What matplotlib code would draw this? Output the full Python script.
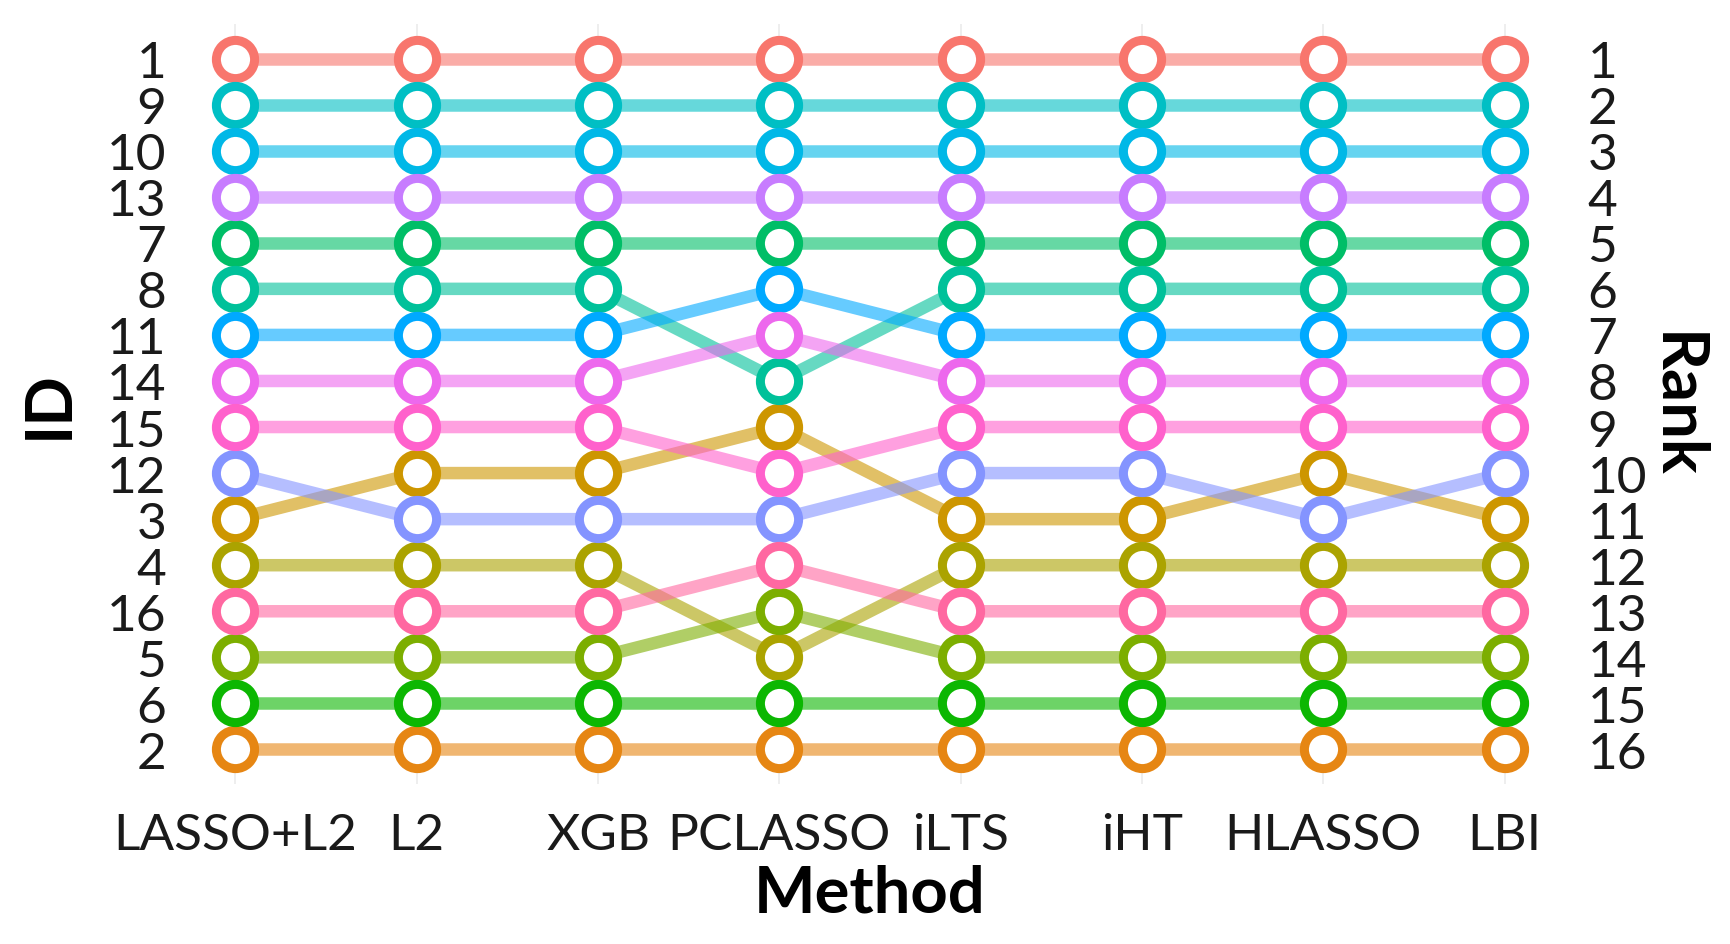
import matplotlib.pyplot as plt
import numpy as np
import matplotlib

matplotlib.rcParams['font.family'] = ['Lato', 'DejaVu Sans']

# data: IDs in rank order (rank 1 first) for each method
methods = ['LASSO+L2', 'L2', 'XGB', 'PCLASSO', 'iLTS', 'iHT', 'HLASSO', 'LBI']
order_lasso_l2 = [1, 9, 10, 13, 7, 8, 11, 14, 15, 12, 3, 4, 16, 5, 6, 2]
order_l2 = [1, 9, 10, 13, 7, 8, 11, 14, 15, 3, 12, 4, 16, 5, 6, 2]
order_xgb = [1, 9, 10, 13, 7, 8, 11, 14, 15, 3, 12, 4, 16, 5, 6, 2]
order_pclasso = [1, 9, 10, 13, 7, 11, 14, 8, 3, 15, 12, 16, 5, 4, 6, 2]
order_ilts = [1, 9, 10, 13, 7, 8, 11, 14, 15, 12, 3, 4, 16, 5, 6, 2]
order_iht = [1, 9, 10, 13, 7, 8, 11, 14, 15, 12, 3, 4, 16, 5, 6, 2]
order_hlasso = [1, 9, 10, 13, 7, 8, 11, 14, 15, 3, 12, 4, 16, 5, 6, 2]
order_lbi = [1, 9, 10, 13, 7, 8, 11, 14, 15, 12, 3, 4, 16, 5, 6, 2]
orders = [order_lasso_l2, order_l2, order_xgb, order_pclasso,
          order_ilts, order_iht, order_hlasso, order_lbi]
ids = list(range(1, 17))


# ggplot-like hue palette (hcl, c=100, l=65)
def hcl_to_rgb(h, c=100.0, l=65.0):
    h = np.deg2rad(h)
    u, v = c * np.cos(h), c * np.sin(h)
    xn, yn, zn = 95.047, 100.0, 108.883
    un = 4 * xn / (xn + 15 * yn + 3 * zn)
    vn = 9 * yn / (xn + 15 * yn + 3 * zn)
    y = yn * ((l + 16) / 116) ** 3
    up = u / (13 * l) + un
    vp = v / (13 * l) + vn
    x = 9.0 * y * up / (4 * vp)
    z = -x / 3 - 5 * y + 3 * y / vp
    xyz = np.array([x, y, z]) / 100
    m = np.array([[3.240479, -1.537150, -0.498535],
                  [-0.969256, 1.875992, 0.041556],
                  [0.055648, -0.204043, 1.057311]])
    rgb = m @ xyz
    rgb = np.where(rgb > 0.0031308, 1.055 * np.abs(rgb) ** (1 / 2.4) - 0.055, 12.92 * rgb)
    return tuple(np.clip(rgb, 0, 1))


hues = np.linspace(15, 375, len(ids) + 1)[:-1]
colors = {i: hcl_to_rgb(hh) for i, hh in zip(ids, hues)}

x = np.arange(len(methods))

fig = plt.figure(figsize=(17.31, 9.45), dpi=100)
ax = fig.add_axes([172 / 1731, 1 - 785 / 945, (1568 - 172) / 1731, (785 - 25) / 945])

for xi in x:
    ax.axvline(xi, color='#EBEBEB', lw=1.2, zorder=0)

for i in ids:
    ranks = [o.index(i) + 1 for o in orders]
    ax.plot(x, ranks, color=colors[i], lw=9, alpha=0.6, solid_capstyle='butt', zorder=2)
for i in ids:
    ranks = [o.index(i) + 1 for o in orders]
    ax.plot(x, ranks, ls='none', marker='o', ms=27.5, mfc='white', mec=colors[i], mew=6.5, zorder=3)

ax.set_xlim(-0.35, len(methods) - 1 + 0.35)
ax.set_ylim(16.75, 0.25)
for s in ax.spines.values():
    s.set_visible(False)

ax.set_xticks(x)
ax.set_xticklabels(methods)
ax.set_yticks(np.arange(1, 17))
ax.set_yticklabels([str(i) for i in order_lasso_l2])
ax.tick_params(length=0, labelsize=37, labelcolor='#1A1A1A', pad=4)
ax.tick_params(axis='x', pad=20)

ax2 = ax.twinx()
ax2.set_ylim(16.75, 0.25)
ax2.set_yticks(np.arange(1, 17))
ax2.set_yticklabels([str(r) for r in range(1, 17)])
ax2.tick_params(length=0, labelsize=37, labelcolor='#1A1A1A', pad=14)
for s in ax2.spines.values():
    s.set_visible(False)

ax.set_xlabel('Method', fontsize=47, fontweight='bold', labelpad=4)
ax.set_ylabel('ID', fontsize=47, fontweight='bold', labelpad=20)
ax2.set_ylabel('Rank', fontsize=47, fontweight='bold', rotation=270, labelpad=42)

plt.savefig('out.png', dpi=100)
